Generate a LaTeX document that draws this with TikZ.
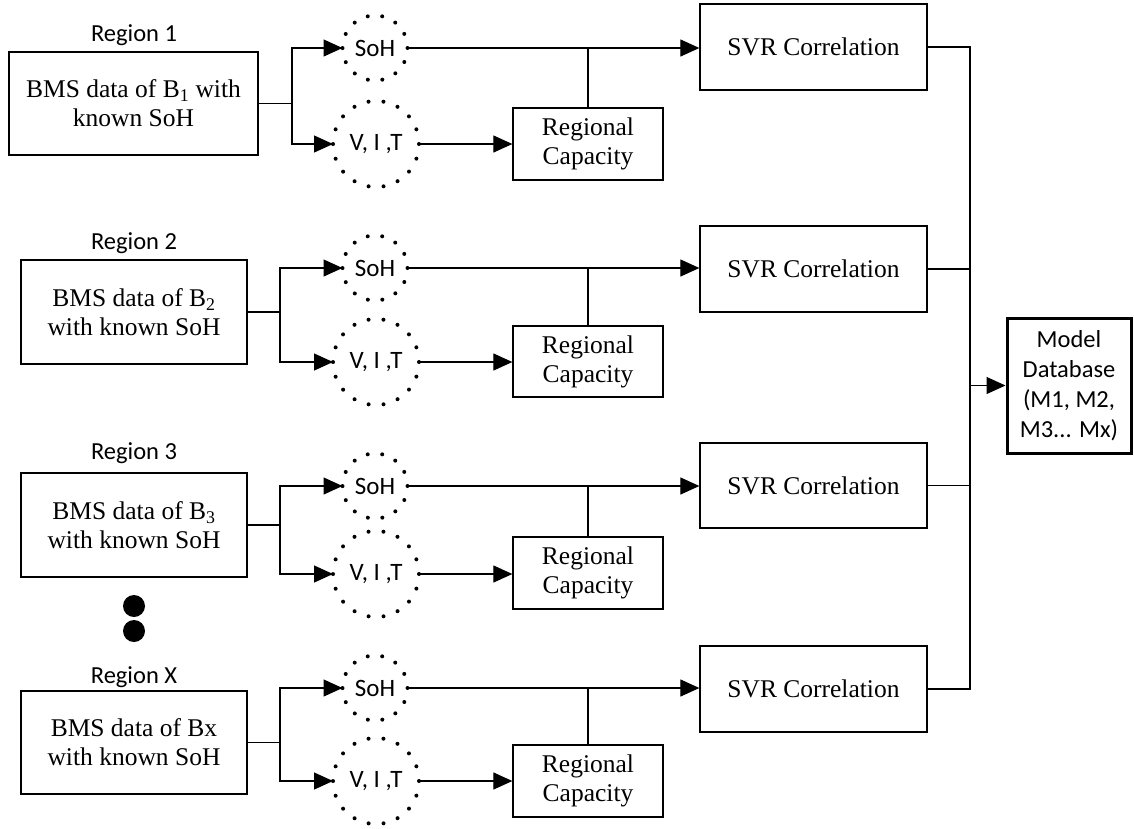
\documentclass[tikz,border=0pt]{standalone}
\usepackage{fontspec}
\setmainfont{Liberation Serif}
\newfontfamily\calib{Carlito}
\usetikzlibrary{arrows.meta}
\begin{document}
\begin{tikzpicture}[x=1pt,y=-1pt,
  box/.style={draw, line width=1.3pt, align=center, inner sep=0pt, font=\fontsize{25.5}{29}\selectfont},
  lab/.style={inner sep=0pt, font=\calib\fontsize{24.5}{30}\selectfont},
  sohc/.style={circle, draw, minimum size=65pt, inner sep=0pt, outer sep=0pt, line width=4pt, line cap=round, dash pattern=on 0pt off 14.59pt, font=\calib\fontsize{25}{30}\selectfont},
  vitc/.style={circle, draw, minimum size=86pt, inner sep=0pt, outer sep=0pt, line width=4pt, line cap=round, dash pattern=on 0pt off 15.01pt, font=\calib\fontsize{25}{30}\selectfont},
  conn/.style={line width=1.2pt},
  arr/.style={conn, -{Triangle[length=19pt,width=17pt]}},
  bigdot/.style={circle, fill=black, minimum size=22pt, inner sep=0pt}
]
\useasboundingbox (0,0) rectangle (1134,828);

\foreach \k/\ly/\bl/\br/\bt/\bb/\bx/\sy/\vy/\st/\sb/\rt/\rb/\txt in {
  1/35/9/258/52/155/292/48/144/4/90/108/180/{BMS data of B\textsubscript{1} with\\known SoH},
  2/243/21/247/260/364/280/268/362/226/312/326/397/{BMS data of B\textsubscript{2}\\with known SoH},
  3/453/21/247/473/577/280/486/574/443/528/537/609/{BMS data of B\textsubscript{3}\\with known SoH},
  X/677/21/247/691/794/280/688/781/646/732/745/817/{BMS data of Bx\\with known SoH}}{
  \node[lab] (reg\k) at (134,\ly) {Region \k};
  \node[box, minimum width={\br-\bl}, minimum height={\bb-\bt}] (b\k) at ({(\bl+\br)/2},{(\bt+\bb)/2}) {\txt};
  \node[sohc] (soh\k) at (375,\sy) {SoH};
  \node[vitc] (vit\k) at (376,\vy) {V, I ,T};
  \node[box, minimum width=150, minimum height={\rb-\rt}] (rc\k) at (588,{(\rt+\rb)/2}) {Regional\\Capacity};
  \node[box, minimum width=227, minimum height={\sb-\st}] (svr\k) at (813.5,{(\st+\sb)/2}) {SVR Correlation};
  \coordinate (br\k) at (\bx,{(\bt+\bb)/2});
  \draw[conn] (b\k.east) -- (br\k);
  \draw[arr] (br\k) |- (soh\k.west);
  \draw[arr] (br\k) |- (vit\k.west);
  \draw[arr] (soh\k.east) -- (soh\k.east -| svr\k.west);
  \draw[conn] (rc\k.north) -- (rc\k.north |- soh\k.east);
  \draw[arr] (vit\k.east) -- (vit\k.east -| rc\k.west);
}

\coordinate (busx) at (970,0);
\node[draw, line width=3pt, minimum width=124, minimum height=135, inner sep=0pt, align=center,
  font=\calib\fontsize{24.5}{30}\selectfont] (mdb) at (1069,385.5) {Model\\Database\\(M1, M2,\\M3... Mx)};

\draw[conn] (svr1.east) -- (svr1.east -| busx) -- (svrX.east -| busx) -- (svrX.east);
\draw[conn] (svr2.east) -- (svr2.east -| busx);
\draw[conn] (svr3.east) -- (svr3.east -| busx);
\draw[arr] (busx |- mdb.west) -- (mdb.west);

\node[bigdot] (dot1) at (134,606) {};
\node[bigdot] (dot2) at (134,631) {};
\end{tikzpicture}
\end{document}
